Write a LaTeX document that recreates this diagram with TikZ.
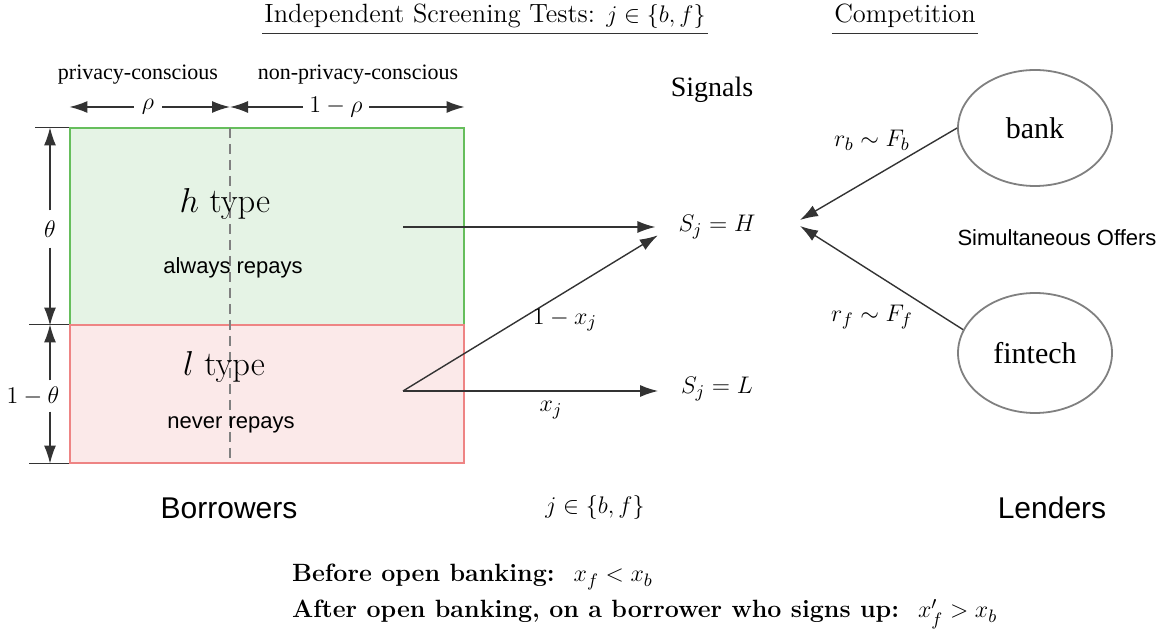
\documentclass[tikz,border=0pt]{standalone}
\usepackage{fontspec}
\usepackage{amsmath}
\usetikzlibrary{positioning}
\usetikzlibrary{calc}
\usetikzlibrary{arrows.meta}
\usetikzlibrary{shapes.geometric}
\newfontfamily\timesfont{Liberation Serif}
\newfontfamily\arialfont{Liberation Sans}
\definecolor{hcolor}{RGB}{229, 243, 229}
\definecolor{hbordercolor}{RGB}{102, 190, 92}
\definecolor{lcolor}{RGB}{251, 233, 233}
\definecolor{lbordercolor}{RGB}{238, 132, 132}
\definecolor{arrowcolor}{RGB}{51, 51, 51}
\definecolor{lendercolor}{RGB}{128, 128, 128}
\tikzstyle{signal} = [-{Latex[length=9pt, width=6pt]}, line width=0.7pt, arrowcolor]
\tikzstyle{dim} = [-{Latex[length=9pt, width=6pt]}, line width=0.7pt, arrowcolor]
\tikzstyle{tick} = [line width=0.7pt, arrowcolor]
\tikzstyle{htypebox} = [draw=hbordercolor, fill=hcolor, line width=0.6pt, minimum width=197pt, minimum height=98.5pt, inner sep=0pt]
\tikzstyle{ltypebox} = [draw=lbordercolor, fill=lcolor, line width=0.6pt, minimum width=197pt, minimum height=69pt, inner sep=0pt]
\tikzstyle{lender} = [ellipse, draw=lendercolor, line width=0.9pt, minimum width=77pt, minimum height=58pt, font={\fontsize{15}{18}\selectfont\timesfont}]
\tikzstyle{heading} = [inner sep=1pt, font={\fontsize{13.2}{16}\selectfont}]

\begin{document}
\begin{tikzpicture}[x=0.5pt, y=-0.5pt]
		\useasboundingbox (0,0) rectangle (1161,635);
		
		%
		% Headings
		\node [heading] (tests) at (485,16) {Independent Screening Tests: $j\in\{b,f\}$};
		\node [heading] (competition) at (905,16) {Competition};
		\draw [tick, line width=0.5pt] ([yshift=-1.5pt]tests.south west) -- ([yshift=-1.5pt]tests.south east);
		\draw [tick, line width=0.5pt] ([yshift=-1.5pt]competition.south west) -- ([yshift=-1.5pt]competition.south east);
		
		%
		% Borrowers
		\node [htypebox] at (267,226.5) (hbox) {};
		\node [ltypebox] at (267,394) (lbox) {};
		\coordinate (split_top) at (230,128);
		\draw [lendercolor, line width=0.6pt, dash pattern=on 5pt off 3pt] (split_top) -- (split_top |- lbox.south);
		
		\node [font={\LARGE}] at (225,204) (htype) {$h$ type};
		\node [font={\fontsize{11}{13}\selectfont\arialfont}] at (233,268) (hrepay) {always repays};
		\node [font={\LARGE}] at (224,367) (ltype) {$l$ type};
		\node [font={\fontsize{11}{13}\selectfont\arialfont}] at (231,425) (lrepay) {never repays};
		
		% Privacy shares
		\node [font={\fontsize{11}{13}\selectfont\timesfont}] at (138,75) (conscious) {privacy-conscious};
		\node [font={\fontsize{11}{13}\selectfont\timesfont}] at (358,75) (nonconscious) {non-privacy-conscious};
		\node [font={\fontsize{12.5}{15}\selectfont}, inner sep=4pt] at (148,107) (rho) {$\rho$};
		\node [font={\fontsize{12.5}{15}\selectfont}, inner sep=3pt] at (336,107) (one_rho) {$1-\rho$};
		\draw [dim] (rho.west) -- (rho.west -| hbox.north west);
		\draw [dim] (rho.east) -- (rho.east -| split_top);
		\draw [dim] (one_rho.west) -- (one_rho.west -| split_top);
		\draw [dim] (one_rho.east) -- (one_rho.east -| hbox.north east);
		
		% Type shares
		\node [font={\fontsize{12.5}{15}\selectfont}, inner sep=5pt] at (50,229) (theta) {$\theta$};
		\node [font={\fontsize{12.5}{15}\selectfont}, inner sep=3pt] at (33,396) (one_theta) {$1-\theta$};
		\draw [dim] (theta.north) -- (theta.north |- hbox.north);
		\draw [dim] (theta.south) -- (theta.south |- hbox.south);
		\draw [dim] (one_theta.north -| theta) -- (theta |- lbox.north);
		\draw [dim] (one_theta.south -| theta) -- (theta |- lbox.south);
		\draw [tick] ([xshift=-17pt]hbox.north west) -- (hbox.north west);
		\draw [tick] ([xshift=-20pt]lbox.north west) -- (lbox.north west);
		\draw [tick] ([xshift=-20pt]lbox.south west) -- (lbox.south west);
		
		%
		% Signals
		\node [font={\fontsize{14}{17}\selectfont\timesfont}] at (712,90) (signals) {Signals};
		\node [font={\fontsize{13}{15}\selectfont}] at (717,227) (sjh) {$S_j = H$};
		\node [font={\fontsize{13}{15}\selectfont}] at (717,389) (sjl) {$S_j = L$};
		\coordinate (h_src) at (403,227);
		\coordinate (l_src) at (403,391);
		
		\draw [signal, shorten >=8pt] (h_src) -- (sjh.west);
		\draw [signal, shorten >=8pt] (l_src) -- (sjh.west);
		\draw [signal, shorten >=8pt] (l_src) -- (l_src -| sjl.west);
		\node [font={\fontsize{12.5}{15}\selectfont}] at (565,320) (one_xj) {$1-x_j$};
		\node [font={\fontsize{12.5}{15}\selectfont}] at (551,410) (xj) {$x_j$};
		
		%
		% Lenders
		\node [lender] at (1035,128) (bank) {bank};
		\node [lender, minimum height=60pt] at (1035,353) (fintech) {fintech};
		\coordinate (offer) at (800,222);
		\draw [signal] (bank.west) -- ([yshift=1pt]offer);
		\draw [signal] (fintech.162) -- ([yshift=-2pt]offer);
		\node [font={\fontsize{12.5}{15}\selectfont}] at (872,140) (rb) {$r_b\sim F_b$};
		\node [font={\fontsize{12.5}{15}\selectfont}] at (872,317) (rf) {$r_f\sim F_f$};
		\node [font={\fontsize{11}{13}\selectfont\arialfont}] at (1057,238) (simult) {Simultaneous Offers};
		
		%
		% Captions
		\node [font={\fontsize{15}{18}\selectfont\arialfont}] at (229,508) (borrowers) {Borrowers};
		\node [font={\fontsize{12.5}{15}\selectfont}] at (595,508) (jset) {$j\in\{b,f\}$};
		\node [font={\fontsize{15}{18}\selectfont\arialfont}] at (1052,508) (lenders) {Lenders};
		\node [anchor=west, font={\fontsize{12.5}{15}\selectfont}] at (285,577) (before) {\textbf{Before open banking:} \ $x_f < x_b$};
		\node [anchor=west, font={\fontsize{12.5}{15}\selectfont}] at (285,614) (after) {\textbf{After open banking, on a borrower who signs up:} \ $x'_f > x_b$};
	
	\end{tikzpicture}
\end{document}
